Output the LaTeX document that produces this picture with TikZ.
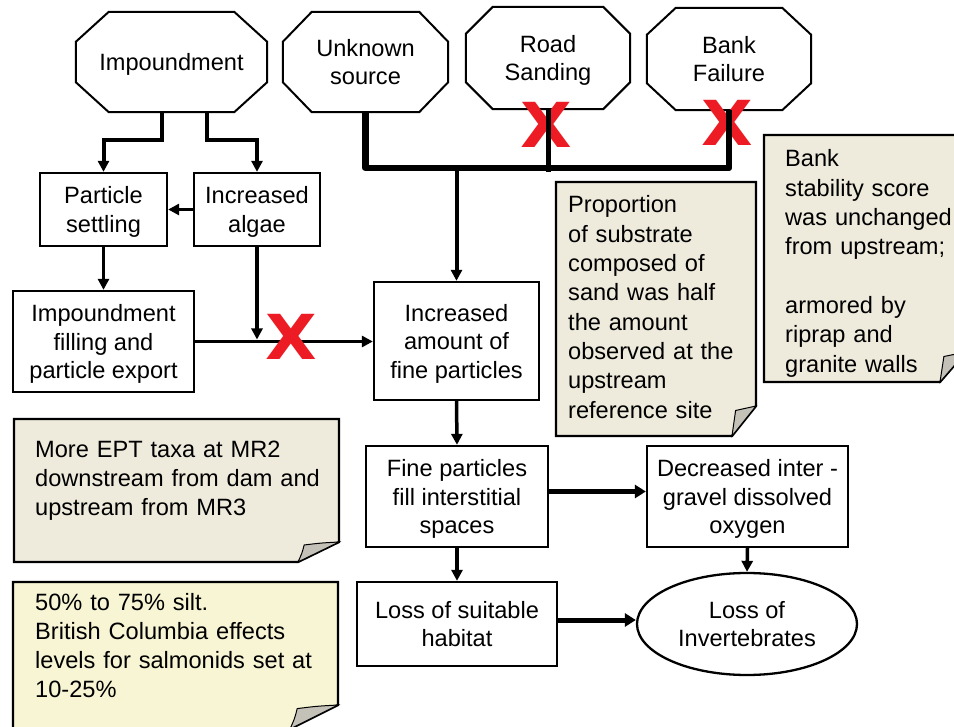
\documentclass[tikz,border=0pt]{standalone}
\usepackage{fontspec}
\setmainfont{Liberation Sans}
\newfontfamily\crossfont{DejaVu Sans}
\usetikzlibrary{arrows.meta,calc,shapes.geometric}

\definecolor{notebeige}{RGB}{238,235,220}
\definecolor{noteyellow}{RGB}{247,245,212}
\definecolor{flapgray}{RGB}{196,194,184}
\definecolor{crossred}{RGB}{237,28,36}

\newcommand{\crossmark}{\scalebox{1.08}[1]{X}}

\tikzset{
  every node/.style={font=\fontsize{23.6}{28.5}\selectfont},
  box/.style={draw, line width=2.3pt, rectangle, inner sep=0pt, align=center, text depth=0pt},
  octbox/.style={inner sep=0pt, align=center, text depth=0pt},
  octline/.style={draw, line width=2pt, line join=miter},
  ovalbox/.style={draw, line width=2.3pt, ellipse, inner sep=0pt, align=center, text depth=0pt},
  notebox/.style={draw, line width=2.3pt, line join=miter},
  flap/.style={draw, line width=1pt, fill=flapgray},
  notetext/.style={anchor=base west, inner sep=0pt, align=left, text width=#1,
                   font=\fontsize{23.6}{29.3}\selectfont},
  redcross/.style={inner sep=0pt, text=crossred, text depth=0pt,
                   font=\crossfont\bfseries\fontsize{62}{62}\selectfont},
  conn/.style={line width=3.5pt},
  arr/.style={conn, -{Triangle[length=11pt,width=11pt]}},
  thickarr/.style={line width=5pt, -{Triangle[length=11pt,width=13pt]}},
  feed/.style={line width=5pt},
  busline/.style={line width=6.5pt, line join=round},
}

% octagon outline around a node: name, horizontal and vertical chamfer
\newcommand{\octagonaround}[3]{%
  \draw[octline] ($(#1.north west)+(#2,0)$) -- ($(#1.north east)+(-#2,0)$)
    -- ($(#1.north east)+(0,#3)$) -- ($(#1.south east)+(0,-#3)$)
    -- ($(#1.south east)+(-#2,0)$) -- ($(#1.south west)+(#2,0)$)
    -- ($(#1.south west)+(0,-#3)$) -- ($(#1.north west)+(0,#3)$) -- cycle;}

% sticky note with a folded lower right corner
% x1, y1, x2, y2, fold width, fold height, fill colour
\newcommand{\foldnote}[7]{%
  \filldraw[notebox, fill=#7] (#1,#2) -- (#3,#2) -- (#3,#4-#6) -- (#3-#5,#4) -- (#1,#4) -- cycle;
  \filldraw[flap] (#3,#4-#6) .. controls (#3-0.45*#5,#4-0.95*#6) .. (#3-0.85*#5,#4-0.85*#6)
    .. controls (#3-0.9*#5,#4-0.45*#6) .. (#3-#5,#4) -- cycle;}

\begin{document}
\begin{tikzpicture}[x=1pt,y=-1pt]
\fill[white] (0,0) rectangle (954,727);
\useasboundingbox (0,0) rectangle (954,727);

% notes
\foldnote{556}{182}{756}{436}{24}{30}{notebeige}
\foldnote{764}{135}{966}{382}{26}{30}{notebeige}
\foldnote{14}{419}{339}{562}{41}{20}{notebeige}
\foldnote{13}{582}{338}{729}{48}{24}{noteyellow}

\node[notetext=185pt] (propnote) at (568,213)
  {Proportion\\of substrate\\composed of\\sand was half\\the amount\\observed at the\\upstream\\reference site};
\node[notetext=180pt] (banknote) at (785,167)
  {Bank\\stability score\\was unchanged\\from upstream;\\\mbox{}\\armored by\\riprap and\\granite walls};
\node[notetext=300pt] (eptnote) at (35,457)
  {More EPT taxa at MR2\\downstream from dam and\\upstream from MR3};
\node[notetext=300pt] (siltnote) at (35,610)
  {50\% to 75\% silt.\\British Columbia effects\\levels for salmonids set at\\10-25\%};

% sources
\node[octbox, minimum width=191pt, minimum height=100pt] (imp)  at (171.5,62) {Impoundment};
\node[octbox, minimum width=165pt, minimum height=100pt] (unk)  at (365.5,62) {Unknown\\source};
\node[octbox, minimum width=164pt, minimum height=102pt] (road) at (548,58)   {Road\\Sanding};
\node[octbox, minimum width=164pt, minimum height=102pt] (bank) at (729,59)   {Bank\\Failure};
\octagonaround{imp}{33}{30}
\octagonaround{unk}{29}{30}
\octagonaround{road}{27}{27}
\octagonaround{bank}{29}{27}

% process boxes
\node[box, minimum width=127pt, minimum height=73pt]  (settle) at (103.5,209.5) {Particle\\settling};
\node[box, minimum width=126pt, minimum height=73pt]  (algae)  at (257,209.5)   {Increased\\algae};
\node[box, minimum width=181pt, minimum height=101pt] (fill)   at (103.5,341.5) {Impoundment\\filling and\\particle export};
\node[box, minimum width=165pt, minimum height=118pt] (amount) at (456.5,341)   {Increased\\amount of\\fine particles};
\node[box, minimum width=182pt, minimum height=101pt] (fine)   at (457,496.5)   {Fine particles\\fill interstitial\\spaces};
\node[box, minimum width=201pt, minimum height=101pt] (dec)    at (747.5,496.5) {Decreased inter -\\gravel dissolved\\oxygen};
\node[box, minimum width=200pt, minimum height=84pt]  (hab)    at (457,624)     {Loss of suitable\\habitat};
\node[ovalbox, minimum width=220pt, minimum height=102pt] (inv) at (747,624) {Loss of\\Invertebrates};

% blocked pathways
\node[redcross] (xroad) at (546,125) {\crossmark};
\node[redcross] (xbank) at (727,123) {\crossmark};

% impoundment branches
\draw[arr, line width=4pt] ([xshift=-9.5pt]imp.south) -- ++(0,28) -| (settle.north);
\draw[arr, line width=4pt] ([xshift=35.5pt]imp.south) -- ++(0,28) -| (algae.north);
\draw[arr] (algae.west) -- (settle.east);
\draw[arr] (settle.south) -- (fill.north);
\draw[arr] (fill.east) -- (fill.east -| amount.west);
\draw[arr] (algae.south) -- ($(algae.south |- fill.east)+(0,-2)$);
\node[redcross] (xfill) at (291,337) {\crossmark};

% external sources joined on one bus
\coordinate (busy) at (0,168);
\draw[busline] (unk.south) -- (unk.south |- busy) -- (bank.south |- busy) -- (bank.south);
\draw[feed] (road.south) -- ($(road.south |- busy)+(0,4)$);
\draw[arr, line width=4pt] (amount.north |- busy) -- (amount.north);

% downstream effects
\draw[arr] (amount.south) -- (fine.north);
\draw[thickarr] ([yshift=5pt]fine.east) -- ([yshift=5pt]dec.west);
\draw[arr] (fine.south) -- (hab.north);
\draw[arr] (dec.south) -- (inv.north);
\draw[thickarr] ([yshift=4pt]hab.east) -- ([yshift=4pt]hab.east -| inv.west);
\end{tikzpicture}
\end{document}
